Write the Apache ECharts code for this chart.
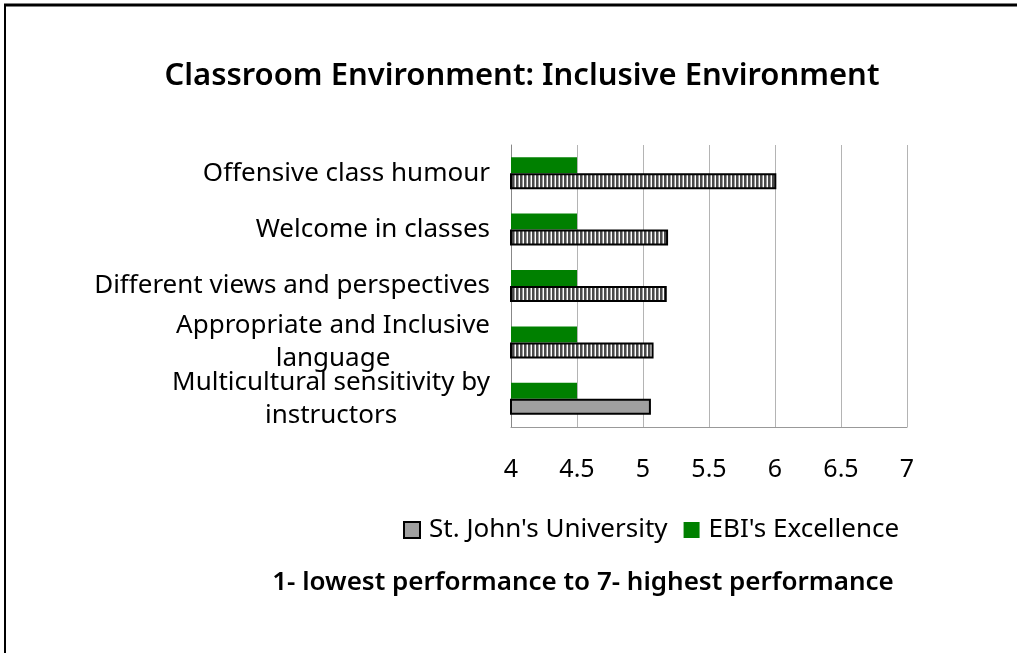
<!DOCTYPE html>
<html>
<head>
<meta charset="utf-8">
<script src="https://cdn.jsdelivr.net/npm/echarts@6/dist/echarts.min.js"></script>
<style>
  html, body { margin: 0; padding: 0; background: #fff; }
  #chart { width: 1017px; height: 653px; }
</style>
</head>
<body>
<div id="chart"></div>
<script>
// categories bottom -> top (category axis starts at the bottom)
var categories = [
  'Multicultural sensitivity by\ninstructors',
  'Appropriate and Inclusive\nlanguage',
  'Different views and perspectives',
  'Welcome in classes',
  'Offensive class humour'
]
var stJohns = [5.06, 5.08, 5.18, 5.19, 6.01]
var ebi = [4.5, 4.5, 4.5, 4.5, 4.5]
var xTicks = [4, 4.5, 5, 5.5, 6, 6.5, 7]

// striped fill like the original
function stripes() {
  var c = document.createElement('canvas')
  c.width = 4
  c.height = 4
  var ctx = c.getContext('2d')
  ctx.fillStyle = '#ffffff'
  ctx.fillRect(0, 0, 4, 4)
  ctx.fillStyle = '#4a4a4a'
  ctx.fillRect(0, 0, 2, 4)
  ctx.fillStyle = '#9a9a9a'
  ctx.fillRect(2, 0, 1, 4)
  return c
}
var stripeFill = { image: stripes(), repeat: 'repeat' }

var font = 'Noto Sans'
var myChart = echarts.init(document.getElementById('chart'))
var option = {
  animation: false,
  textStyle: { fontFamily: font, color: '#000' },
  title: [
    {
      text: 'Classroom Environment: Inclusive Environment',
      left: 517,
      textAlign: 'center',
      top: 56,
      textStyle: { fontFamily: font, fontSize: 31, fontWeight: 600, color: '#000' }
    },
    {
      text: '1- lowest performance to 7- highest performance',
      left: 578,
      textAlign: 'center',
      top: 565,
      textStyle: { fontFamily: font, fontSize: 26, fontWeight: 600, color: '#000' }
    }
  ],
  legend: {
    left: 398,
    top: 512,
    itemWidth: 16,
    itemHeight: 16,
    itemGap: 16,
    icon: 'rect',
    textStyle: { fontFamily: font, fontSize: 26, color: '#000', padding: [0, 0, 0, 4] },
    data: [
      { name: "St. John's University", itemStyle: { color: '#a0a0a0', borderColor: '#000', borderWidth: 2 } },
      { name: "EBI's Excellence", itemStyle: { color: '#008000' } }
    ]
  },
  grid: { left: 511, right: 110, top: 145, bottom: 226 },
  xAxis: {
    type: 'value',
    min: xTicks[0],
    max: xTicks[xTicks.length - 1],
    interval: 0.5,
    axisLine: { show: true, lineStyle: { color: '#999' } },
    axisTick: { show: false },
    axisLabel: { fontSize: 25, color: '#000', margin: 30, fontFamily: font },
    splitLine: { show: true, lineStyle: { color: '#b4b4b4' } }
  },
  yAxis: {
    type: 'category',
    data: categories,
    axisLine: { show: true, lineStyle: { color: '#888' } },
    axisTick: { show: false },
    axisLabel: {
      interval: 0,
      hideOverlap: false,
      margin: 21,
      align: 'right',
      formatter: function (v) {
        return v.split('\n').map(function (l) { return '{c|' + l + '}' }).join('\n')
      },
      rich: {
        c: { align: 'center', fontSize: 26, lineHeight: 33, color: '#000', fontFamily: font }
      }
    }
  },
  series: [
    {
      name: "EBI's Excellence",
      type: 'bar',
      barWidth: 16,
      barGap: '0%',
      itemStyle: { color: '#008000' },
      data: ebi
    },
    {
      name: "St. John's University",
      type: 'bar',
      barWidth: 16,
      barGap: '0%',
      itemStyle: { color: stripeFill, borderColor: '#000', borderWidth: 2 },
      data: stJohns.map(function (v, i) {
        // the bottom bar is drawn solid grey in the original
        return i === 0 ? { value: v, itemStyle: { color: '#a0a0a0' } } : v
      })
    }
  ],
  graphic: [
    { type: 'line', shape: { x1: 4, y1: 5, x2: 1017, y2: 5 }, style: { stroke: '#000', lineWidth: 3 } },
    { type: 'line', shape: { x1: 5, y1: 5, x2: 5, y2: 653 }, style: { stroke: '#000', lineWidth: 2 } }
  ]
}
myChart.setOption(option)
</script>
</body>
</html>
